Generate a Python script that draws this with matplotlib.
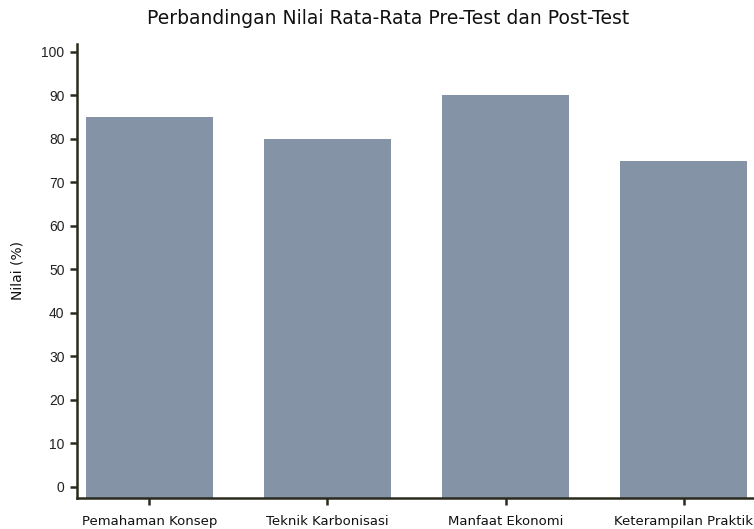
import matplotlib
matplotlib.use("Agg")
import matplotlib.pyplot as plt

categories = ["Pemahaman Konsep", "Teknik Karbonisasi", "Manfaat Ekonomi", "Keterampilan Praktik"]
values = [85, 80, 90, 75]
yticks = [0, 10, 20, 30, 40, 50, 60, 70, 80, 90, 100]

plt.rcParams['font.family'] = ['DejaVu Sans']

W, H = 754, 529
fig = plt.figure(figsize=(W / 100, H / 100), dpi=100)
ax = fig.add_axes([77 / W, (H - 498) / H, (756 - 77) / W, (498 - 44) / H])

ymin, ymax = -2.53, 101.8
x = list(range(len(categories)))
ax.bar(x, [v - ymin for v in values], bottom=ymin, width=0.715, color="#8493a5", zorder=2)

ax.set_xlim(-0.407, 3.407)
ax.set_ylim(ymin, ymax)
ax.set_yticks(yticks)
ax.set_yticklabels([str(t) for t in yticks], fontsize=10, color="#222222", family="Liberation Sans")
ax.set_xticks(x)
ax.set_xticklabels(categories, fontsize=9.5, color="#111111")

for s in ["top", "right"]:
    ax.spines[s].set_visible(False)
for s in ["left", "bottom"]:
    ax.spines[s].set_color("#2a2a1e")
    ax.spines[s].set_linewidth(1.8)
ax.tick_params(axis="both", color="#2a2a1e", width=1.8, length=5, pad=4)
ax.tick_params(axis="x", pad=7)

ax.set_ylabel("Nilai (%)", fontsize=10, color="#111111", labelpad=12)
fig.text(388 / W, 1 - 19 / H, "Perbandingan Nilai Rata-Rata Pre-Test dan Post-Test",
         ha="center", va="center", fontsize=13.5, color="#111111")

fig.savefig("out.png", dpi=100)
